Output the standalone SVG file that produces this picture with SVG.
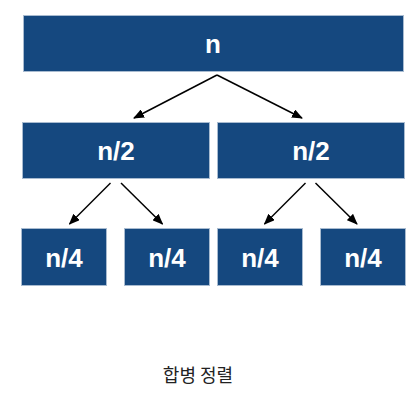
<svg xmlns="http://www.w3.org/2000/svg" width="418" height="402" viewBox="0 0 418 402">
<defs>
<marker id="ah" markerWidth="11" markerHeight="9" refX="10" refY="4.5" orient="auto" markerUnits="userSpaceOnUse">
<path d="M0,0 L11,4.5 L0,9 Z" fill="#000"/>
</marker>
<style>
.box{fill:#15487f;stroke:#a8bbd0;stroke-width:1}
.lbl{fill:#fff;font-family:"Liberation Sans",Arial,sans-serif;font-weight:bold;font-size:26px;text-anchor:middle}
.edge{stroke:#000;stroke-width:1.5;fill:none;marker-end:url(#ah)}
.cap{fill:#222;font-family:"Noto Sans CJK KR","Noto Sans",sans-serif;font-size:18px;text-anchor:middle}
</style>
</defs>
<rect width="418" height="402" fill="#fff"/>
<g id="n"><rect class="box" x="23.5" y="15.5" width="380" height="56"/><text class="lbl" x="213" y="53">n</text></g>
<g id="n2a"><rect class="box" x="22.5" y="122.5" width="187" height="56"/><text class="lbl" x="116" y="160">n/2</text></g>
<g id="n2b"><rect class="box" x="217.5" y="122.5" width="187" height="56"/><text class="lbl" x="311" y="160">n/2</text></g>
<g id="n4a"><rect class="box" x="21.5" y="228.5" width="85" height="57"/><text class="lbl" x="64" y="267">n/4</text></g>
<g id="n4b"><rect class="box" x="124.5" y="228.5" width="85" height="57"/><text class="lbl" x="167" y="267">n/4</text></g>
<g id="n4c"><rect class="box" x="217.5" y="228.5" width="85" height="57"/><text class="lbl" x="260" y="267">n/4</text></g>
<g id="n4d"><rect class="box" x="320.5" y="228.5" width="85" height="57"/><text class="lbl" x="363" y="267">n/4</text></g>
<g id="connectors">
<path class="edge" d="M217,75 L134,118"/>
<path class="edge" d="M217,75 L302,118"/>
<path class="edge" d="M110.5,183 L69.5,224"/>
<path class="edge" d="M121,183 L162.5,224"/>
<path class="edge" d="M305.5,183 L264.5,224"/>
<path class="edge" d="M315.5,183 L357,224"/>
</g>
<text class="cap" x="198" y="382">합병 정렬</text>
</svg>
